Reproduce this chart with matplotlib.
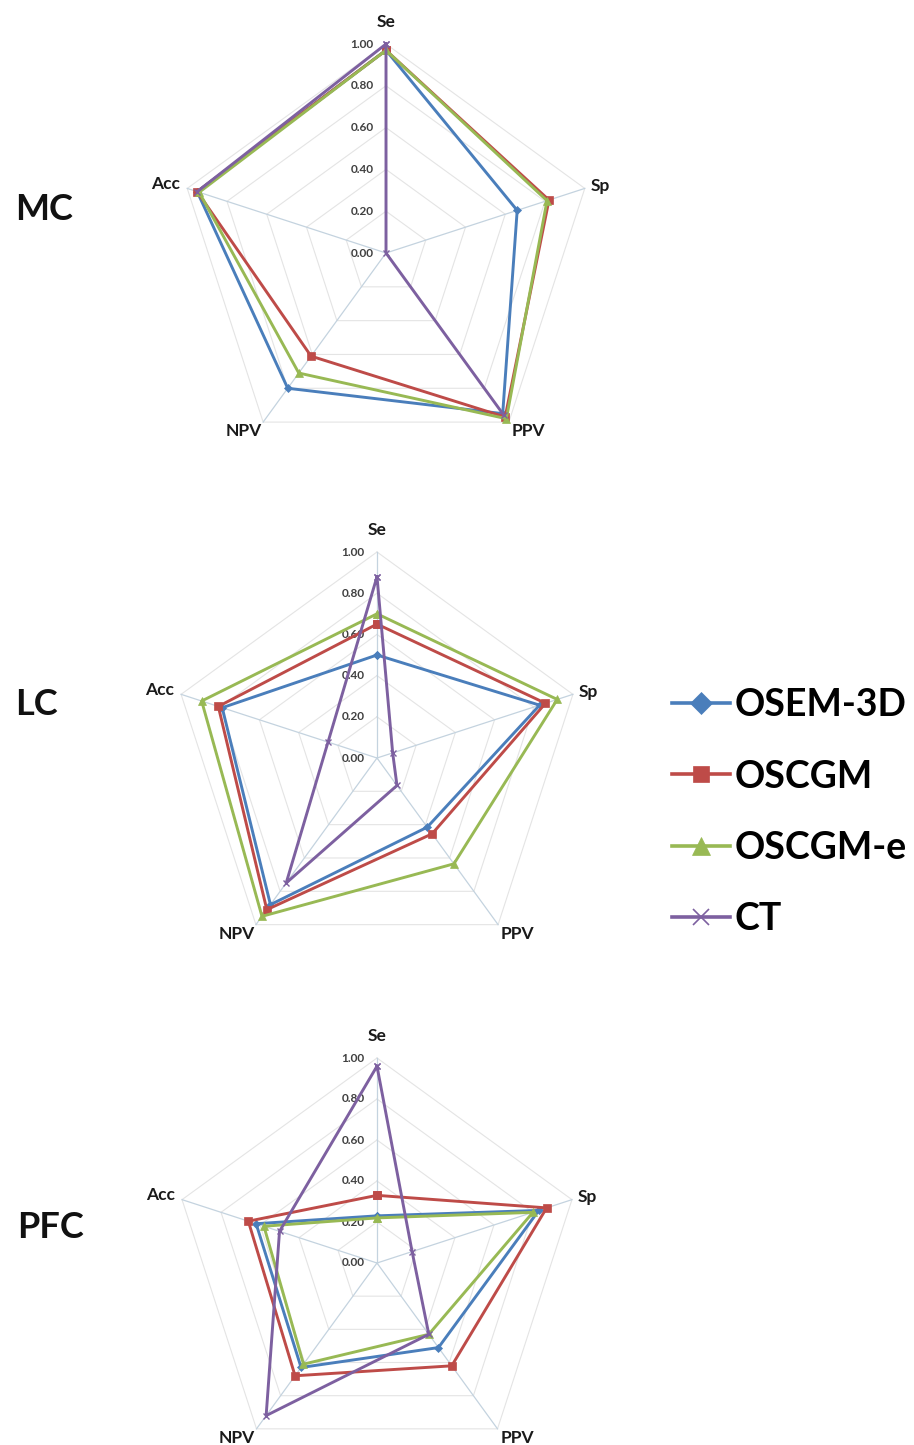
import numpy as np
import matplotlib.pyplot as plt
from matplotlib.lines import Line2D

plt.rcParams['font.family'] = ['Lato', 'DejaVu Sans']

axes_names = ['Se', 'Sp', 'PPV', 'NPV', 'Acc']
series_names = ['OSEM-3D', 'OSCGM', 'OSCGM-e', 'CT']
tick_values = [0.0, 0.2, 0.4, 0.6, 0.8, 1.0]
tick_labels = ['0.00', '0.20', '0.40', '0.60', '0.80', '1.00']
panel_names = ['MC', 'LC', 'PFC']

# values in order Se, Sp, PPV, NPV, Acc (nan = empty cell)
mc_osem = [0.97, 0.66, 0.95, 0.80, 0.95]
mc_oscgm = [0.97, 0.82, 0.97, 0.61, 0.95]
mc_oscgm_e = [0.97, 0.81, 0.98, 0.71, 0.94]
mc_ct = [1.00, 0.00, 0.96, np.nan, 0.95]

lc_osem = [0.50, 0.83, 0.415, 0.88, 0.79]
lc_oscgm = [0.65, 0.86, 0.455, 0.91, 0.81]
lc_oscgm_e = [0.70, 0.92, 0.635, 0.95, 0.895]
lc_ct = [0.88, 0.08, 0.165, 0.75, 0.25]

pfc_osem = [0.23, 0.83, 0.51, 0.63, 0.62]
pfc_oscgm = [0.33, 0.87, 0.62, 0.68, 0.66]
pfc_oscgm_e = [0.22, 0.80, 0.43, 0.61, 0.58]
pfc_ct = [0.96, 0.18, 0.43, 0.92, 0.50]

panels = [
    [mc_osem, mc_oscgm, mc_oscgm_e, mc_ct],
    [lc_osem, lc_oscgm, lc_oscgm_e, lc_ct],
    [pfc_osem, pfc_oscgm, pfc_oscgm_e, pfc_ct],
]

colors = ['#4a7ebb', '#be4b48', '#98b954', '#7d60a0']
markers = ['D', 's', '^', 'x']
msizes = [4, 5.5, 6, 4.5]

# pixel layout: centre x, centre y (from top), radius
W, H = 914, 1445
centres = [(386, 253, 209), (377, 758, 206), (377, 1263, 205)]
label_pos = [(15, 209), (15, 705), (17, 1227)]

angles = np.deg2rad(90 - 72 * np.arange(5))
cosa, sina = np.cos(angles), np.sin(angles)

fig = plt.figure(figsize=(W / 100, H / 100), dpi=100)
lim = 1.3

for p, (cx, cy, R) in enumerate(centres):
    half = lim * R
    ax = fig.add_axes([(cx - half) / W, (H - cy - half) / H, 2 * half / W, 2 * half / H])
    ax.set_xlim(-lim, lim)
    ax.set_ylim(-lim, lim)
    ax.set_aspect('equal')
    ax.axis('off')

    # pentagon grid
    for t in tick_values[1:]:
        ax.plot(np.append(cosa, cosa[0]) * t, np.append(sina, sina[0]) * t,
                color='#e4e4e4', lw=0.8, zorder=1)
    for i in range(5):
        ax.plot([0, cosa[i]], [0, sina[i]], color='#c4d3df', lw=0.9, zorder=1)

    for t, lab in zip(tick_values, tick_labels):
        ax.annotate(lab, (0, t), xytext=(-9, 0), textcoords='offset points',
                    ha='right', va='center', fontsize=8.5, fontweight='bold',
                    color='#404040', zorder=2)

    # axis labels
    offs = [((0, 10), 'center', 'bottom'), ((4, 2), 'left', 'center'),
            ((2, -1), 'left', 'top'), ((-1, -1), 'right', 'top'),
            ((-5, 3), 'right', 'center')]
    for i, name in enumerate(axes_names):
        (dx, dy), ha, va = offs[i]
        ax.annotate(name, (cosa[i], sina[i]), xytext=(dx, dy), textcoords='offset points',
                    ha=ha, va=va, fontsize=12.5, fontweight='bold', color='#1a1a1a')

    for s, vals in enumerate(panels[p]):
        v = np.array(vals + [vals[0]], dtype=float)
        xs = v * np.append(cosa, cosa[0])
        ys = v * np.append(sina, sina[0])
        ax.plot(xs, ys, color=colors[s], lw=2.1, marker=markers[s], ms=msizes[s],
                mew=1.0 if markers[s] == 'x' else 0.5, mec=colors[s], zorder=3 + s)

    fig.text(label_pos[p][0] / W, 1 - label_pos[p][1] / H, panel_names[p],
             fontsize=26, fontweight='bold', color='#111111', ha='left', va='center')

handles = [Line2D([], [], color=colors[s], lw=2.6, marker=markers[s],
                  ms=[11, 12, 13, 12][s], mew=1.2 if markers[s] == 'x' else 0.5)
           for s in range(4)]
fig.legend(handles, series_names, loc='upper left',
           bbox_to_anchor=(672 / W, 1 - 688 / H), frameon=False,
           handlelength=1.55, handletextpad=0.12, labelspacing=1.0,
           borderpad=0, borderaxespad=0,
           prop={'family': ['Lato', 'DejaVu Sans'], 'weight': 'bold', 'size': 27})

fig.savefig('out.png', dpi=100, facecolor='white')
